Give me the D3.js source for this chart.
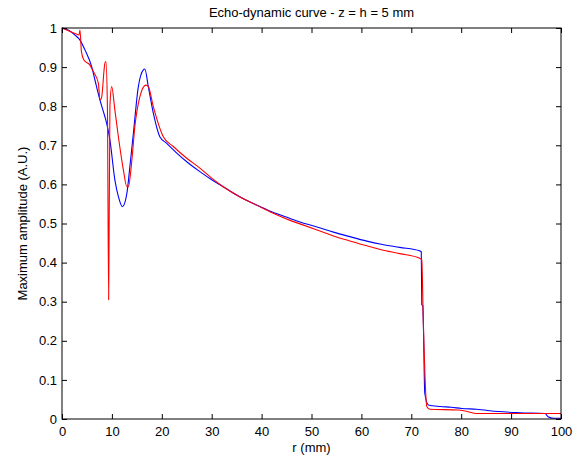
<!DOCTYPE html>
<html><head><meta charset="utf-8">
<script src="https://cdn.jsdelivr.net/npm/d3@7"></script>
<style>body{margin:0;background:#fff;} text{font-family:"Liberation Sans",Arial,sans-serif;}</style>
</head><body>
<svg id="c" width="581" height="459"></svg>
<script>
const title = "Echo-dynamic curve - z = h = 5 mm";
const xLabel = "r (mm)";
const yLabel = "Maximum amplitude (A.U.)";
const xTicks = [0,10,20,30,40,50,60,70,80,90,100];
const yTicks = [0,0.1,0.2,0.3,0.4,0.5,0.6,0.7,0.8,0.9,1];

const blueR = [0,1.5,2.6,3.6,4.6,5.95,6.6,7.6,8.6,8.95,9.6,10.6,11.3,12.1,13.0,13.6,14.3,15.3,16.3,16.6,17.3,18.3,19.6,21.0,23.0,25.0,27.7,30,32.3,35.5,39.0,42,45.7,47.7,51.4,54.4,57.5,61.1,64,67.7,71.7,72.0,72.1,72.3,72.4,72.7,73.4,75.8,78,80.1,83.1,87.4,91.8,96.8,97.4,98.5,100];
const blueA = [1.0,0.993,0.982,0.969,0.944,0.901,0.867,0.816,0.773,0.756,0.714,0.611,0.569,0.543,0.577,0.645,0.730,0.850,0.893,0.895,0.850,0.782,0.722,0.705,0.680,0.658,0.632,0.612,0.594,0.569,0.547,0.530,0.513,0.504,0.490,0.478,0.467,0.455,0.447,0.439,0.430,0.428,0.292,0.290,0.253,0.066,0.036,0.032,0.030,0.027,0.025,0.019,0.016,0.014,0.006,0.002,0.002];

const redR = [0,2.6,3.4,3.6,3.9,4.4,5.6,6.3,7.3,7.6,7.9,8.6,8.8,9.1,9.35,9.6,9.96,10.6,11.3,12.3,13.0,13.3,14.0,14.6,15.6,16.8,17.3,18.3,20.3,22.3,25.0,27.7,30,32.3,35.5,39.0,42,45.7,47.7,51.4,54.4,57.5,61.1,64,67.7,71.7,72.1,72.4,73.1,73.7,79.4,81,83.1,90,96.8,100];
const redA = [1.0,0.986,0.982,0.995,0.939,0.918,0.905,0.888,0.858,0.816,0.82,0.910,0.914,0.799,0.305,0.799,0.850,0.790,0.722,0.637,0.594,0.594,0.662,0.748,0.824,0.854,0.850,0.799,0.722,0.697,0.667,0.641,0.616,0.594,0.569,0.547,0.528,0.508,0.499,0.482,0.468,0.456,0.443,0.433,0.423,0.411,0.407,0.253,0.032,0.025,0.023,0.020,0.014,0.014,0.014,0.014];

const L=62, R=561, T=28, B=419;
const svg = d3.select("#c");
const x = d3.scaleLinear().domain([0,100]).range([L,R]);
const y = d3.scaleLinear().domain([0,1]).range([B,T]);

const line = d3.line().x(d=>x(d[0])).y(d=>y(d[1])).curve(d3.curveMonotoneX);
svg.append("path").datum(blueR.map((r,i)=>[r,blueA[i]])).attr("d",line)
  .attr("fill","none").attr("stroke","#0000ff").attr("stroke-width",1.1);
svg.append("path").datum(redR.map((r,i)=>[r,redA[i]])).attr("d",line)
  .attr("fill","none").attr("stroke","#ff0000").attr("stroke-width",1.1);

const fs = 13;
const gx = svg.append("g").attr("transform",`translate(0,${B})`)
  .call(d3.axisBottom(x).tickValues(xTicks).tickSizeInner(-5).tickSizeOuter(0).tickPadding(8).tickFormat(d3.format("d")));
const gxt = svg.append("g").attr("transform",`translate(0,${T})`)
  .call(d3.axisTop(x).tickValues(xTicks).tickSizeInner(-5).tickSizeOuter(0).tickFormat(""));
const gy = svg.append("g").attr("transform",`translate(${L},0)`)
  .call(d3.axisLeft(y).tickValues(yTicks).tickSizeInner(-5).tickSizeOuter(0).tickPadding(5).tickFormat(d=>String(d)));
const gyr = svg.append("g").attr("transform",`translate(${R},0)`)
  .call(d3.axisRight(y).tickValues(yTicks).tickSizeInner(-5).tickSizeOuter(0).tickFormat(""));
[gx,gxt,gy,gyr].forEach(g=>{
  g.selectAll("path.domain").remove();
  g.selectAll("line").attr("stroke","#000");
  g.selectAll("text").attr("font-size",fs).attr("fill","#000").attr("font-family","Liberation Sans, Arial, sans-serif");
});
svg.append("rect").attr("x",L).attr("y",T).attr("width",R-L).attr("height",B-T)
  .attr("fill","none").attr("stroke","#000").attr("stroke-width",1);

svg.append("text").attr("x",(L+R)/2).attr("y",17).attr("text-anchor","middle").attr("font-size",fs).text(title);
svg.append("text").attr("x",(L+R)/2).attr("y",452).attr("text-anchor","middle").attr("font-size",fs).text(xLabel);
svg.append("text").attr("transform",`translate(27,${(T+B)/2}) rotate(-90)`).attr("text-anchor","middle").attr("font-size",fs).text(yLabel);
</script>
</body></html>
